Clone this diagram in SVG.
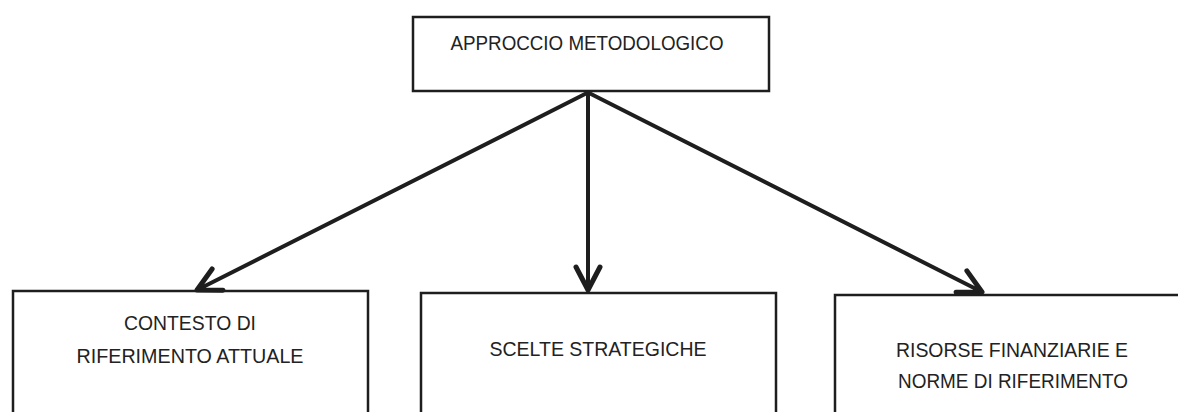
<svg xmlns="http://www.w3.org/2000/svg" width="1178" height="412" viewBox="0 0 1178 412">
<style>
.box{fill:#fff;stroke:#1e1e1e;stroke-width:2.5}
.lbl{font-family:"Liberation Sans",Arial,sans-serif;font-size:21px;fill:#222;text-anchor:middle}
.conn{stroke:#1e1e1e;stroke-width:4;fill:none;stroke-linecap:round}
</style>
<defs>
<marker id="arr" markerUnits="userSpaceOnUse" viewBox="-26 -15 30 30" refX="0" refY="0" markerWidth="30" markerHeight="30" orient="auto">
<path d="M-23,-12 L0,0 L-23,12" fill="none" stroke="#1e1e1e" stroke-width="5" stroke-linejoin="round" stroke-linecap="round"/>
<path d="M-9,-4 L0,0 L-9,4 Z" fill="#1e1e1e"/>
</marker>
</defs>
<rect width="1178" height="412" fill="#fff"/>
<g id="node-top">
<rect class="box" x="413" y="17" width="356" height="74"/>
<text class="lbl" x="587" y="50" textLength="273" lengthAdjust="spacingAndGlyphs">APPROCCIO METODOLOGICO</text>
</g>
<g id="node-contesto">
<rect class="box" x="13" y="291" width="355" height="140"/>
<text class="lbl" x="190" y="330" textLength="132" lengthAdjust="spacingAndGlyphs">CONTESTO DI</text>
<text class="lbl" x="190" y="363" textLength="227" lengthAdjust="spacingAndGlyphs">RIFERIMENTO ATTUALE</text>
</g>
<g id="node-scelte">
<rect class="box" x="421" y="293" width="355" height="140"/>
<text class="lbl" x="598" y="356" textLength="217" lengthAdjust="spacingAndGlyphs">SCELTE STRATEGICHE</text>
</g>
<g id="node-risorse">
<rect class="box" x="835" y="295" width="360" height="140"/>
<text class="lbl" x="1012" y="357" textLength="232" lengthAdjust="spacingAndGlyphs">RISORSE FINANZIARIE E</text>
<text class="lbl" x="1013" y="388" textLength="230" lengthAdjust="spacingAndGlyphs">NORME DI RIFERIMENTO</text>
</g>
<g id="connectors">
<line class="conn" x1="587" y1="93" x2="197" y2="290" marker-end="url(#arr)"/>
<line class="conn" x1="588" y1="93" x2="588" y2="290" marker-end="url(#arr)"/>
<line class="conn" x1="589" y1="93" x2="982" y2="292" marker-end="url(#arr)"/>
</g>
</svg>
